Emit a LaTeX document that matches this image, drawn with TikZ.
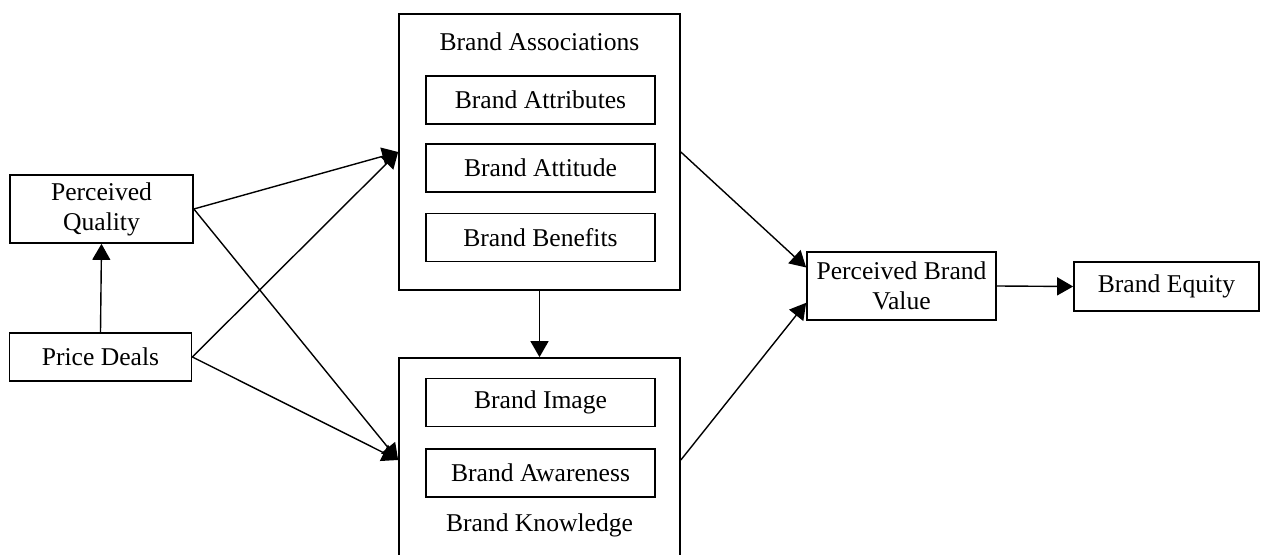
\documentclass[tikz,border=0pt]{standalone}
\usepackage{fontspec}
\setmainfont{Liberation Serif}
\usetikzlibrary{arrows.meta}

\begin{document}
\begin{tikzpicture}[x=0.5pt, y=-0.5pt,
  txt/.style={font=\fontsize{12.8}{15}\selectfont},
  blk/.style={txt, draw, line width=0.85pt, inner sep=0pt, align=center},
  subbox/.style={blk, minimum width=114.5pt, minimum height=24pt},
  conn/.style={line width=0.7pt, -{Triangle[length=8pt,width=9pt]}}]
  \useasboundingbox (0,0) rectangle (1266,555);
  % left column
  \node[blk, minimum width=91.5pt, minimum height=34pt] (pq) at (101.5,209) {Perceived\\Quality};
  \node[blk, minimum width=91pt, minimum height=24pt] (pd) at (100.5,357) {Price Deals};
  % brand associations
  \node[blk, minimum width=140.5pt, minimum height=138pt] (ba) at (539.5,152) {};
  \node[txt] (batitle) at (539.5,42) {Brand Associations};
  \node[subbox] (attr) at (540.5,100) {Brand Attributes};
  \node[subbox] (attd) at (540.5,168) {Brand Attitude};
  \node[subbox] (bene) at (540.5,237.5) {Brand Benefits};
  % brand knowledge
  \node[blk, minimum width=140.5pt, minimum height=102pt] (bk) at (539.5,460) {};
  \node[subbox] (img) at (540.5,402.5) {Brand Image};
  \node[subbox] (awa) at (540.5,473) {Brand Awareness};
  \node[txt] (bktitle) at (539.5,525) {Brand Knowledge};
  % right column
  \node[blk, minimum width=94.5pt, minimum height=34pt] (pbv) at (901.5,286) {Perceived Brand\\Value};
  \node[blk, minimum width=92.5pt, minimum height=24.5pt] (be) at (1166.5,286.5) {Brand Equity};
  % arrows
  \draw[conn] (pd.north) -- (pq.south);
  \draw[conn] (pq.east) -- (ba.west);
  \draw[conn] (pd.east) -- (ba.west);
  \draw[conn] (pq.east) -- (bk.west);
  \draw[conn] (pd.east) -- (bk.west);
  \draw[conn] (ba.south) -- (bk.north);
  \draw[conn] (ba.east) -- (pbv.169);
  \draw[conn] (bk.east) -- (pbv.190);
  \draw[conn] (pbv.east) -- (be.west);
\end{tikzpicture}
\end{document}
